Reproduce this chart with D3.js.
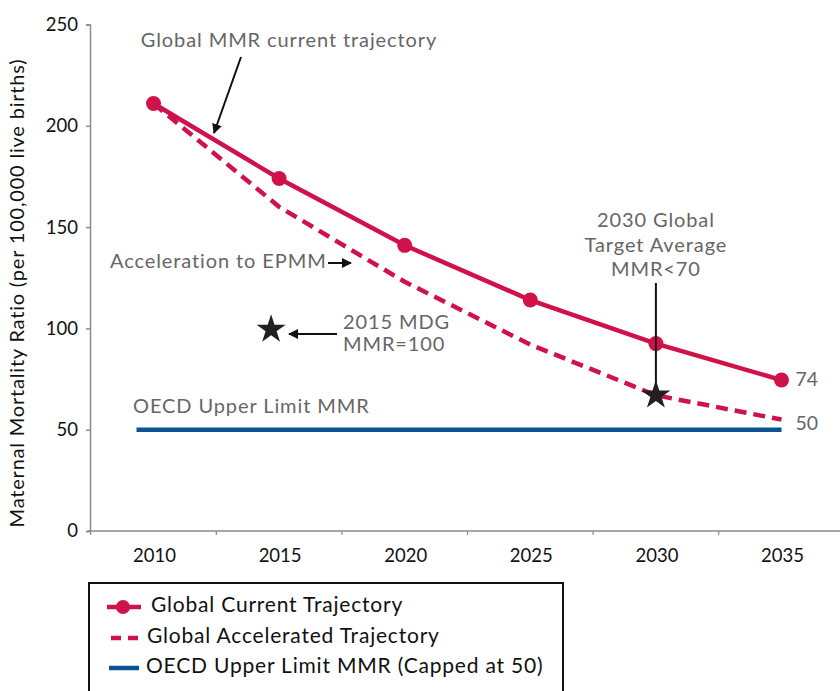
<!DOCTYPE html>
<html><head><meta charset="utf-8">
<script src="https://cdn.jsdelivr.net/npm/d3@7"></script>
<style>
html,body{margin:0;padding:0;background:#fff;}
svg{display:block;font-family:"Lato","Open Sans",sans-serif;}
</style></head>
<body>
<svg id="chart" width="840" height="691"></svg>
<script>
const years = ["2010","2015","2020","2025","2030","2035"];
const currentTrajectory = [211, 174, 141, 114, 92.5, 74.5];
const acceleratedTrajectory = [211, 160, 123, 92, 67, 55];
const oecdLimit = [50, 50, 50, 50, 50, 50];
const yTicks = [0, 50, 100, 150, 200, 250];
const endLabels = ["74", "50"];
const stars = [{year:"2015", value:100}, {year:"2030", value:67.5}];
const legendLabels = ["Global Current Trajectory", "Global Accelerated Trajectory", "OECD Upper Limit MMR (Capped at 50)"];

const RED = "#d0124a", BLUE = "#0b5394", GREY = "#666", AXIS = "#8a8a8a";
const svg = d3.select("#chart");

const x = d3.scaleBand().domain(years).range([90.7, 844.3]).paddingInner(0).paddingOuter(0);
const cx = d => x(d) + x.bandwidth()/2;
const y = d3.scaleLinear().domain([0, 250]).range([531, 24.5]);

const ANN = {size: 20, ls: 0.9};

// Y axis
const yAxis = svg.append("g").attr("transform","translate(90,0)")
  .call(d3.axisLeft(y).tickValues(yTicks).tickSize(4).tickPadding(8));
yAxis.select(".domain").attr("stroke", AXIS).attr("stroke-width", 1.5);
yAxis.selectAll(".tick line").attr("stroke", AXIS).attr("stroke-width", 1.5);
yAxis.selectAll(".tick text").attr("font-size", 18.5).attr("fill","#111").attr("font-family","Lato, sans-serif");

// X axis: domain line, boundary ticks, labels
const xg = svg.append("g").attr("transform","translate(0,531)");
xg.append("line").attr("x1", 88).attr("x2", 844).attr("y1",0).attr("y2",0).attr("stroke", AXIS).attr("stroke-width",1.5);
xg.selectAll("line.bt").data(years).join("line").attr("class","bt")
  .attr("x1", d=>x(d)).attr("x2", d=>x(d)).attr("y1",0).attr("y2",4)
  .attr("stroke", AXIS).attr("stroke-width",1.2);
xg.selectAll("text").data(years).join("text")
  .attr("x", d=>cx(d)+1).attr("y", 31).attr("text-anchor","middle")
  .attr("font-size", 18.5).attr("fill","#111").text(d=>d);

// Y axis title
svg.append("text").attr("transform","translate(24,293) rotate(-90)")
  .attr("text-anchor","middle").attr("font-size",20).attr("letter-spacing",0.8).attr("fill","#111")
  .text("Maternal Mortality Ratio (per 100,000 live births)");

// OECD line
const oecdLine = d3.line().x((d,i)=> i===0 ? cx(years[i]) - 17 : cx(years[i])).y(d=>y(d));
svg.append("path").datum(oecdLimit).attr("d", oecdLine)
  .attr("fill","none").attr("stroke", BLUE).attr("stroke-width", 4.5);

// Accelerated dashed
const line = d3.line().x((d,i)=>cx(years[i])).y(d=>y(d));
svg.append("path").datum(acceleratedTrajectory).attr("d", line)
  .attr("fill","none").attr("stroke", RED).attr("stroke-width", 4.5)
  .attr("stroke-dasharray","12,7");

// Current solid
svg.append("path").datum(currentTrajectory).attr("d", line)
  .attr("fill","none").attr("stroke", RED).attr("stroke-width", 4.5);
svg.selectAll("circle.pt").data(currentTrajectory).join("circle").attr("class","pt")
  .attr("cx",(d,i)=>cx(years[i])).attr("cy", d=>y(d)).attr("r", 7.5).attr("fill", RED);

// End labels
svg.append("text").attr("x", cx("2035")+14).attr("y", y(currentTrajectory[5])+1).attr("dominant-baseline","middle")
  .attr("font-size",19.5).attr("fill",GREY).text(endLabels[0]);
svg.append("text").attr("x", cx("2035")+14).attr("y", y(50)-5).attr("dominant-baseline","middle")
  .attr("font-size",19.5).attr("fill",GREY).text(endLabels[1]);

// Arrow marker
const defs = svg.append("defs");
defs.append("marker").attr("id","arr").attr("viewBox","0 0 10 10").attr("refX",9).attr("refY",5)
  .attr("markerWidth",5).attr("markerHeight",5).attr("markerUnits","strokeWidth").attr("orient","auto")
  .append("path").attr("d","M0,0 L10,5 L0,10 z").attr("fill","#111");

function ann(t, xx, yy, anchor){
  return svg.append("text").attr("x", xx).attr("y", yy).attr("text-anchor", anchor || "start")
    .attr("dominant-baseline","middle").attr("font-size",ANN.size).attr("letter-spacing",ANN.ls)
    .attr("fill",GREY).text(t);
}

// Annotations
ann("Global MMR current trajectory", 289, 42, "middle");
svg.append("line").attr("x1",241).attr("y1",57).attr("x2",214).attr("y2",133)
  .attr("stroke","#111").attr("stroke-width",2).attr("marker-end","url(#arr)");

ann("Acceleration to EPMM", 110, 263);
svg.append("line").attr("x1",328).attr("y1",263).attr("x2",351).attr("y2",263)
  .attr("stroke","#111").attr("stroke-width",2).attr("marker-end","url(#arr)");

ann("2015 MDG", 343, 324);
ann("MMR=100", 343, 346);
svg.append("line").attr("x1",337).attr("y1",334).attr("x2",289).attr("y2",334)
  .attr("stroke","#111").attr("stroke-width",2).attr("marker-end","url(#arr)");

["2030 Global","Target Average","MMR<70"].forEach((t,i)=>{
  ann(t, cx("2030"), 222 + i*24.5, "middle");
});
svg.append("line").attr("x1",cx("2030")).attr("x2",cx("2030")).attr("y1",283).attr("y2",y(stars[1].value))
  .attr("stroke","#111").attr("stroke-width",2);

ann("OECD Upper Limit MMR", 133, 408);

// Stars
const star = d3.symbol().type(d3.symbolStar).size(260);
svg.selectAll("path.star").data(stars).join("path").attr("class","star")
  .attr("transform",(d,i)=>`translate(${cx(d.year) + (i===0 ? -8 : 0)},${y(d.value)+1})`)
  .attr("d", star).attr("fill","#231f20");

// Legend
svg.append("rect").attr("x",89).attr("y",583).attr("width",474).attr("height",130)
  .attr("fill","#fff").attr("stroke","#111").attr("stroke-width",2);
const ly = [607, 638, 668];
svg.append("line").attr("x1",107).attr("x2",141).attr("y1",ly[0]).attr("y2",ly[0]).attr("stroke",RED).attr("stroke-width",4.5);
svg.append("circle").attr("cx",123).attr("cy",ly[0]).attr("r",7).attr("fill",RED);
svg.append("line").attr("x1",111).attr("x2",140).attr("y1",ly[1]).attr("y2",ly[1]).attr("stroke",RED).attr("stroke-width",4.5).attr("stroke-dasharray","10,7");
svg.append("line").attr("x1",109).attr("x2",139).attr("y1",ly[2]).attr("y2",ly[2]).attr("stroke",BLUE).attr("stroke-width",4.5);
const lx = [151, 147, 146];
legendLabels.forEach((t,i)=>{
  svg.append("text").attr("x", lx[i]).attr("y", ly[i]).attr("dominant-baseline","middle")
    .attr("font-size",21).attr("letter-spacing",0.8).attr("fill","#111").text(t);
});
</script>
</body></html>
